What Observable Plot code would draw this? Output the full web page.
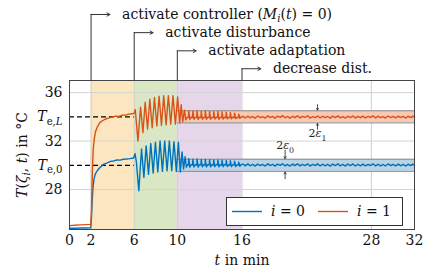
<!DOCTYPE html>
<html><head><meta charset="utf-8">
<script src="https://cdn.jsdelivr.net/npm/d3@7"></script>
<script src="https://cdn.jsdelivr.net/npm/@observablehq/plot@0.6"></script>
<style>
body{margin:0;background:#fff}
</style></head><body><div id="chart"></div>
<script>
// ---- data ----
const xTicks = [0, 2, 6, 10, 16, 28, 32];
const xGrid = [2, 6, 10, 16, 28];
const yTicks = [28, 30, 32, 34, 36];
const yTickLabels = ["28", "i:T|s:e,0", "32", "i:T|s:e,|si:L", "36"];
const yGrid = [28, 32, 36];

const phaseStart = [2, 6, 10];
const phaseEnd = [6, 10, 16];
const phaseColor = ["#fbe6bf", "#d9e7c5", "#e6d6e9"];

const eventTimes = [2, 6, 10, 16];
const eventRows = [42.45, 40.95, 39.45, 37.97];
const eventLabels = [
  "activate controller (|i:M|si:i|(|i:t|) = 0)",
  "activate disturbance",
  "activate adaptation",
  "decrease dist."
];

const setpoints = [30, 34];          // T_e,0 , T_e,L
const setpointEnd = 6;
const bandStart = 10;
const bandEnd = 32;
const epsilon = [0.5, 0.5];
const bandFill = ["#bad3e5", "#f6c9b4"];
const seriesNames = ["i:i| = 0", "i:i| = 1"];
const seriesColor = ["#0072BD", "#D95319"];
const epsLabels = ["2|i:ε|s:0", "2|i:ε|s:1"];
const epsAt = [20, 23];
const epsLabelY = [31.62, 32.62];
const epsArrowDown = [[31.25, 30.56], [35.0, 34.56]];
const epsArrowUp = [[28.9, 29.44], [32.98, 33.44]];

const xLabel = "i:t| in min";
const yLabel = "i:T|(|i:ζ|si:i|, |i:t|) in °C";

// i = 0 (blue)
const series0 = [
 [0,24.8],[0.5,24.8],[1.0,24.82],[1.5,24.82],[1.97,24.83],
 [2.03,25.6],[2.1,27.0],[2.18,28.2],[2.28,28.9],[2.4,29.3],[2.57,29.55],[2.8,29.8],[3.0,29.95],[3.2,30.1],
 [3.5,30.2],[3.8,30.32],[4.1,30.36],[4.4,30.44],[4.7,30.43],[5.0,30.5],[5.3,30.52],[5.6,30.55],[5.95,30.6],
 [6.08,30.95],[6.2,30.3],[6.43,27.9],[6.68,31.35],[6.9,29.0],[7.11,31.6],[7.33,29.25],[7.54,31.8],[7.76,29.35],
 [7.97,31.9],[8.19,29.45],[8.4,32.0],[8.62,29.5],[8.83,32.0],[9.05,29.55],[9.26,32.0],[9.48,29.55],[9.69,31.95],
 [9.91,29.5],[10.1,31.9],
 [10.28,29.45],[10.44,31.1],[10.58,29.7],[10.72,30.7],[10.84,29.85],[10.95,30.05],
 [11.03,30.02],[11.06,30.55],[11.16,29.85],[11.28,30.05],
 [11.41,30.03],[11.44,30.5],[11.54,29.86],[11.66,30.04],
 [11.8,30.02],[11.83,30.52],[11.93,29.85],[12.05,30.05],
 [12.19,30.03],[12.22,30.48],[12.32,29.87],[12.44,30.04],
 [12.57,30.02],[12.6,30.5],[12.7,29.86],[12.82,30.05],
 [12.96,30.03],[12.99,30.46],[13.09,29.87],[13.21,30.04],
 [13.35,30.02],[13.38,30.45],[13.48,29.88],[13.6,30.05],
 [13.73,30.03],[13.76,30.45],[13.86,29.87],[13.98,30.04],
 [14.12,30.02],[14.15,30.42],[14.25,29.88],[14.37,30.05],
 [14.51,30.03],[14.54,30.4],[14.64,29.89],[14.76,30.04],
 [14.89,30.02],[14.92,30.38],[15.02,29.9],[15.14,30.05],
 [15.28,30.03],[15.31,30.33],[15.41,29.9],[15.53,30.04],
 [15.67,30.02],[15.7,30.26],[15.8,29.92],[15.92,30.05],
 [16.1,30.1],[16.3,29.95],[16.55,30.12],[16.75,29.96],[17.0,30.08],[17.2,29.93],[17.45,30.1],[17.7,29.97],
 [17.9,30.07],[18.15,29.94],[18.4,30.12],[18.6,29.98],[18.85,30.08],[19.05,29.93],[19.3,30.1],[19.55,29.99],
 [19.75,30.13],[20.0,29.95],[20.2,30.07],[20.45,29.94],[20.7,30.1],[20.9,29.97],[21.15,30.12],[21.4,29.95],
 [21.6,30.08],[21.85,29.98],[22.1,30.11],[22.3,29.94],[22.55,30.07],[22.8,29.97],[23.0,30.12],[23.25,29.95],
 [23.5,30.09],[23.7,29.96],[23.95,30.08],[24.2,29.93],[24.4,30.1],[24.65,29.98],[24.9,30.12],[25.1,29.95],
 [25.35,30.07],[25.6,29.94],[25.8,30.1],[26.05,29.97],[26.3,30.11],[26.5,29.94],[26.75,30.08],[27.0,29.96],
 [27.2,30.1],[27.45,29.95],[27.7,30.07],[27.9,29.98],[28.15,30.12],[28.4,29.94],[28.6,30.09],[28.85,29.96],
 [29.1,30.07],[29.3,29.94],[29.55,30.11],[29.8,29.97],[30.0,30.08],[30.25,29.95],[30.5,30.1],[30.7,29.96],
 [30.95,30.07],[31.2,29.94],[31.4,30.09],[31.65,29.97],[31.85,30.1],[32.0,29.98]
];

// i = 1 (orange)
const series1 = [
 [0,25.02],[0.5,25.05],[1.0,25.08],[1.5,25.1],[1.97,25.12],
 [2.03,26.0],[2.08,28.0],[2.14,30.0],[2.2,31.3],[2.3,32.2],[2.42,32.8],[2.6,33.2],[2.8,33.5],[3.0,33.65],
 [3.3,33.8],[3.6,33.9],[4.0,34.0],[4.3,34.06],[4.6,34.04],[4.9,34.15],[5.2,34.14],[5.5,34.22],[5.8,34.25],[6.0,34.3],
 [6.1,34.6],[6.35,32.0],[6.59,34.8],[6.81,32.7],[7.02,35.2],[7.24,33.0],[7.45,35.45],[7.67,33.1],[7.88,35.6],
 [8.1,33.25],[8.31,35.7],[8.53,33.3],[8.74,35.75],[8.96,33.35],[9.17,35.75],[9.39,33.4],[9.6,35.75],[9.82,33.4],
 [10.03,35.65],
 [10.22,33.5],[10.36,35.0],[10.5,33.6],[10.67,34.55],[10.78,33.75],[10.9,33.95],
 [11.03,33.95],[11.06,34.5],[11.16,33.78],[11.28,33.97],
 [11.41,33.95],[11.44,34.48],[11.54,33.8],[11.66,33.96],
 [11.8,33.94],[11.83,34.5],[11.93,33.78],[12.05,33.98],
 [12.19,33.95],[12.22,34.45],[12.32,33.8],[12.44,33.96],
 [12.57,33.95],[12.6,34.5],[12.7,33.8],[12.82,33.97],
 [12.96,33.94],[12.99,34.45],[13.09,33.8],[13.21,33.96],
 [13.35,33.95],[13.38,34.42],[13.48,33.82],[13.6,33.97],
 [13.73,33.95],[13.76,34.45],[13.86,33.8],[13.98,33.96],
 [14.12,33.95],[14.15,34.4],[14.25,33.82],[14.37,33.97],
 [14.51,33.95],[14.54,34.38],[14.64,33.83],[14.76,33.96],
 [14.89,33.95],[14.92,34.35],[15.02,33.84],[15.14,33.97],
 [15.28,33.95],[15.31,34.3],[15.41,33.85],[15.53,33.96],
 [15.67,33.95],[15.7,34.22],[15.8,33.87],[15.92,33.98],
 [16.1,34.05],[16.3,33.9],[16.55,34.06],[16.75,33.92],[17.0,34.03],[17.2,33.88],[17.45,34.07],[17.7,33.93],
 [17.9,34.02],[18.15,33.9],[18.4,34.08],[18.6,33.94],[18.85,34.04],[19.05,33.89],[19.3,34.06],[19.55,33.95],
 [19.75,34.1],[20.0,33.92],[20.2,34.03],[20.45,33.9],[20.7,34.05],[20.9,33.93],[21.15,34.08],[21.4,33.91],
 [21.6,34.04],[21.85,33.95],[22.1,34.09],[22.3,33.9],[22.55,34.02],[22.8,33.94],[23.0,34.07],[23.25,33.91],
 [23.5,34.05],[23.7,33.93],[23.95,34.03],[24.2,33.89],[24.4,34.06],[24.65,33.94],[24.9,34.08],[25.1,33.92],
 [25.35,34.02],[25.6,33.9],[25.8,34.05],[26.05,33.94],[26.3,34.07],[26.5,33.9],[26.75,34.04],[27.0,33.93],
 [27.2,34.06],[27.45,33.91],[27.7,34.03],[27.9,33.95],[28.15,34.08],[28.4,33.9],[28.6,34.05],[28.85,33.93],
 [29.1,34.02],[29.3,33.9],[29.55,34.07],[29.8,33.94],[30.0,34.04],[30.25,33.91],[30.5,34.06],[30.7,33.93],
 [30.95,34.03],[31.2,33.9],[31.4,34.05],[31.65,33.94],[31.85,34.06],[32.0,33.95]
];

// ---- build tables ----
const phases = phaseStart.map((s, i) => ({s, e: phaseEnd[i], c: phaseColor[i]}));
const events = eventTimes.map((t, i) => ({t, row: eventRows[i], label: eventLabels[i]}));
const bands = setpoints.map((v, i) => ({v, lo: v - epsilon[i], hi: v + epsilon[i], fill: bandFill[i]}));
const epsAnn = epsAt.map((t, i) => ({t, ly: epsLabelY[i], d: epsArrowDown[i], u: epsArrowUp[i], label: epsLabels[i]}));
const lines = [series0, series1];

const FONT = "'DejaVu Serif', serif";
const plot = Plot.plot({
  width: 428, height: 274,
  marginLeft: 69, marginRight: 14, marginTop: 80, marginBottom: 45,
  style: {fontFamily: FONT, fontSize: "14px", background: "#fff", overflow: "visible"},
  x: {domain: [0, 32], label: null},
  y: {domain: [24.7, 37], label: null},
  marks: [
    Plot.rect(phases, {x1: "s", x2: "e", fill: d => d.c}),
    Plot.ruleX(xGrid, {stroke: "#cfcfcf", strokeWidth: 1}),
    Plot.ruleY(yGrid, {stroke: "#d4d4d4", strokeWidth: 1}),
    Plot.rect(bands, {x1: bandStart, x2: bandEnd, y1: "lo", y2: "hi", fill: "fill"}),
    Plot.ruleY(bands, {y: "lo", x1: bandStart, x2: bandEnd, stroke: "#8a8a8a", strokeWidth: 1}),
    Plot.ruleY(bands, {y: "hi", x1: bandStart, x2: bandEnd, stroke: "#8a8a8a", strokeWidth: 1}),
    Plot.ruleY(setpoints, {x1: 0, x2: setpointEnd, stroke: "#000", strokeWidth: 1.3, strokeDasharray: "5,3"}),
    ...lines.map((s, i) => Plot.line(s, {x: d => d[0], y: d => d[1], stroke: seriesColor[i], strokeWidth: 1.4})),
    Plot.arrow(epsAnn, {x1: "t", x2: "t", y1: d => d.d[0], y2: d => d.d[1], stroke: "#222", strokeWidth: 0.8, headLength: 4}),
    Plot.arrow(epsAnn, {x1: "t", x2: "t", y1: d => d.u[0], y2: d => d.u[1], stroke: "#222", strokeWidth: 0.8, headLength: 4}),
    Plot.text(epsAnn, {x: "t", y: "ly", text: "label", fontSize: 11, fill: "#222"}),
    Plot.frame({stroke: "#444", strokeWidth: 1}),
    Plot.ruleX(events, {x: "t", y1: 37, y2: "row", stroke: "#333", strokeWidth: 1}),
    Plot.arrow(events, {x1: "t", x2: d => d.t + 1.75, y1: "row", y2: "row", stroke: "#333", strokeWidth: 1, headLength: 5}),
    Plot.text(events, {x: "t", y: "row", text: "label", textAnchor: "start", dx: 31, fill: "#111"}),
    Plot.axisX({ticks: xTicks, tickSize: 0, tickPadding: 6, label: null, fill: "#111"}),
    Plot.axisY({ticks: yTicks, tickSize: 0, tickPadding: 7, label: null, fill: "#111",
      tickFormat: d => yTickLabels[yTicks.indexOf(d)]}),
    Plot.text([xLabel], {frameAnchor: "bottom", dy: 35, text: d => d, textAnchor: "middle", fill: "#111"}),
    Plot.text([yLabel], {frameAnchor: "left", dx: -47, rotate: -90, text: d => d, textAnchor: "middle", fill: "#111"})
  ]
});
document.getElementById("chart").appendChild(plot);

// ---- rich text (italic / subscript) ----
const NS = "http://www.w3.org/2000/svg";
function rich(el, markup) {
  el.textContent = "";
  el.setAttribute("font-family", FONT);
  let shift = 0;
  for (const seg of markup.split("|")) {
    const m = seg.match(/^(si|i|s):(.*)$/s);
    const kind = m ? m[1] : "";
    const txt = m ? m[2] : seg;
    const ts = document.createElementNS(NS, "tspan");
    ts.textContent = txt;
    if (kind === "i" || kind === "si") ts.setAttribute("font-style", "italic");
    const sub = kind === "s" || kind === "si";
    const target = sub ? 3.5 : 0;
    if (target !== shift) { ts.setAttribute("dy", target - shift); shift = target; }
    if (sub) ts.setAttribute("font-size", "72%");
    el.appendChild(ts);
  }
}
d3.select(plot).selectAll("text").each(function() {
  const s = this.textContent;
  if (s.includes("|") || /^(si|i|s):/.test(s)) rich(this, s);
});

// ---- legend ----
const svg = d3.select(plot);
const lg = svg.append("g").attr("font-family", FONT).attr("font-size", 14).attr("text-anchor", "start");
lg.append("rect").attr("x", 226.5).attr("y", 197.5).attr("width", 176).attr("height", 28)
  .attr("fill", "#fff").attr("stroke", "#333").attr("stroke-width", 1);
seriesNames.forEach((name, i) => {
  const x0 = 232 + i * 86;
  lg.append("line").attr("x1", x0).attr("x2", x0 + 30).attr("y1", 211.5).attr("y2", 211.5)
    .attr("stroke", seriesColor[i]).attr("stroke-width", 1.4);
  const t = lg.append("text").attr("x", x0 + 39).attr("y", 211.5).attr("dy", "0.35em")
    .attr("text-anchor", "start").attr("fill", "#111").text(name);
  rich(t.node(), name);
});
</script></body></html>
